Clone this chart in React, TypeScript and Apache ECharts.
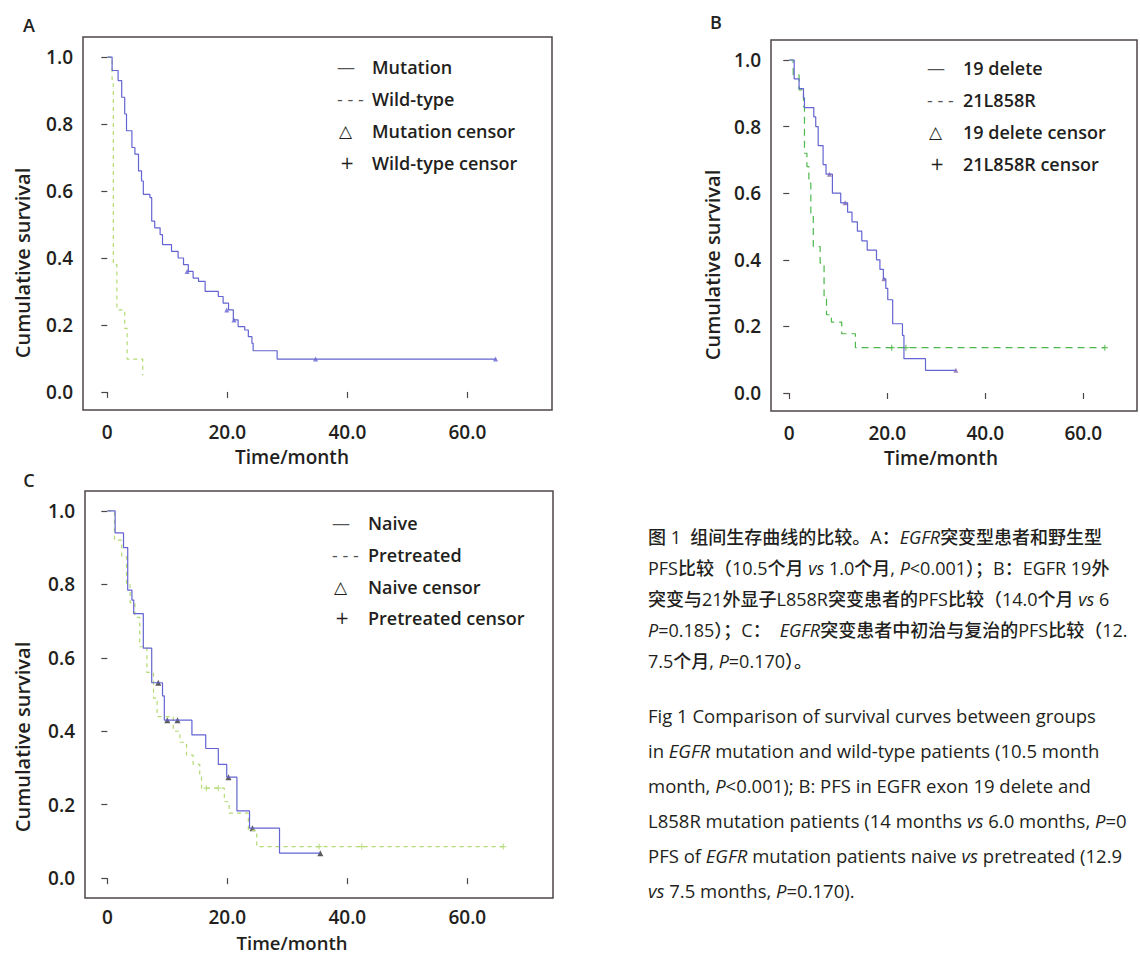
import React, { useEffect, useRef } from 'react';
import * as echarts from 'echarts';

// ---------- tick labels ----------
const X_TICKS = [0, 20, 40, 60];
const Y_TICKS = [0, 0.2, 0.4, 0.6, 0.8, 1.0];

// ---------- Panel A: EGFR mutation vs wild-type ----------
const A_MUT_T = [0, 0.8, 1.8, 2.4, 2.9, 3.2, 4.1, 4.6, 5.2, 5.7, 6.0, 7.1, 7.4, 7.9, 8.8, 9.2, 10.7, 11.8, 12.7, 13.5, 14.3, 15.2, 16.3, 18.5, 19.3, 20.2, 21.0, 21.8, 22.9, 23.5, 24.1, 24.3, 28.3, 64.7];
const A_MUT_S = [1.0, 0.96, 0.93, 0.88, 0.83, 0.78, 0.73, 0.71, 0.66, 0.63, 0.59, 0.58, 0.51, 0.49, 0.47, 0.44, 0.42, 0.40, 0.38, 0.36, 0.34, 0.33, 0.30, 0.285, 0.265, 0.245, 0.215, 0.195, 0.185, 0.165, 0.145, 0.123, 0.098, 0.098];
const A_MUT_CENSOR_T = [13.3, 19.9, 21.1, 34.7, 64.7];
const A_MUT_CENSOR_S = [0.36, 0.245, 0.215, 0.098, 0.098];
const A_WT_T = [0, 0.8, 1.0, 1.6, 2.9, 3.3, 5.9];
const A_WT_S = [1.0, 0.92, 0.38, 0.245, 0.19, 0.098, 0.05];

// ---------- Panel B: 19 delete vs 21L858R ----------
const B_DEL_T = [0, 1.0, 2.0, 2.9, 3.1, 5.0, 5.4, 5.9, 6.9, 7.5, 8.8, 10.5, 11.9, 12.8, 13.9, 14.8, 15.9, 17.8, 18.5, 19.2, 19.7, 20.1, 21.1, 23.1, 23.4, 27.8, 34.0];
const B_DEL_S = [1.0, 0.943, 0.914, 0.886, 0.857, 0.829, 0.80, 0.743, 0.686, 0.657, 0.60, 0.571, 0.543, 0.514, 0.486, 0.457, 0.429, 0.40, 0.371, 0.343, 0.314, 0.28, 0.208, 0.173, 0.103, 0.068, 0.068];
const B_DEL_CENSOR_T = [8.2, 11.4, 19.3, 34.0];
const B_DEL_CENSOR_S = [0.657, 0.571, 0.343, 0.068];
const B_L858R_T = [0, 0.8, 2.0, 2.9, 3.1, 3.6, 4.0, 4.4, 4.9, 6.3, 7.1, 7.6, 8.6, 10.7, 13.5, 64.4];
const B_L858R_S = [1.0, 0.955, 0.91, 0.86, 0.72, 0.68, 0.63, 0.54, 0.44, 0.39, 0.283, 0.235, 0.213, 0.178, 0.136, 0.136];
const B_L858R_CENSOR_T = [20.9, 23.8, 64.4];
const B_L858R_CENSOR_S = [0.136, 0.136, 0.136];

// ---------- Panel C: naive vs pretreated ----------
const C_NAIVE_T = [0, 1.3, 2.7, 3.4, 4.1, 4.4, 6.0, 7.4, 9.2, 9.5, 14.1, 16.4, 18.5, 19.9, 21.6, 23.7, 28.7, 35.5];
const C_NAIVE_S = [1.0, 0.94, 0.90, 0.784, 0.757, 0.72, 0.626, 0.532, 0.496, 0.43, 0.39, 0.353, 0.31, 0.275, 0.183, 0.136, 0.068, 0.068];
const C_NAIVE_CENSOR_T = [8.5, 10.0, 11.7, 20.2, 24.2, 35.5];
const C_NAIVE_CENSOR_S = [0.532, 0.43, 0.43, 0.275, 0.136, 0.068];
const C_PRE_T = [0, 1.2, 2.4, 3.2, 3.8, 4.6, 5.4, 6.6, 7.7, 8.3, 11.0, 12.1, 13.2, 14.3, 15.4, 15.7, 19.5, 20.3, 23.5, 24.9, 66.0];
const C_PRE_S = [1.0, 0.92, 0.875, 0.80, 0.75, 0.71, 0.63, 0.56, 0.49, 0.44, 0.40, 0.37, 0.335, 0.31, 0.276, 0.245, 0.208, 0.177, 0.13, 0.086, 0.086];
const C_PRE_CENSOR_T = [16.5, 18.5, 35.3, 42.4, 66.0];
const C_PRE_CENSOR_S = [0.245, 0.245, 0.086, 0.086, 0.086];

// ---------- texts ----------
const LEGEND_A = ['Mutation', 'Wild-type', 'Mutation censor', 'Wild-type censor'];
const LEGEND_B = ['19 delete', '21L858R', '19 delete censor', '21L858R censor'];
const LEGEND_C = ['Naive', 'Pretreated', 'Naive censor', 'Pretreated censor'];
const LEGEND_GLYPHS = ['—', '- - -', '△', '+'];
const Y_NAME = 'Cumulative survival';
const X_NAME = 'Time/month';

// caption lines, as far as they are visible in the figure (the page edge cuts them)
const CAPTION_CN = [
  '图 1  组间生存曲线的比较。A：{i|EGFR}突变型患者和野生型',
  'PFS比较（10.5个月 {i|vs} 1.0个月, {i|P}<0.001）；B：EGFR 19外',
  '突变与21外显子L858R突变患者的PFS比较（14.0个月 {i|vs} 6',
  '{i|P}=0.185）；C：{i|EGFR}突变患者中初治与复治的PFS比较（12.',
  '7.5个月, {i|P}=0.170）。',
];
const CAPTION_EN = [
  'Fig 1 Comparison of survival curves between groups',
  'in {i|EGFR} mutation and wild-type patients (10.5 month',
  'month, {i|P}<0.001); B: PFS in EGFR exon 19 delete and',
  'L858R mutation patients (14 months {i|vs} 6.0 months, {i|P}=0',
  'PFS of {i|EGFR} mutation patients naive {i|vs} pretreated (12.9',
  '{i|vs} 7.5 months, {i|P}=0.170).',
];

const FONT = "'Open Sans', 'Noto Sans CJK SC', sans-serif";
const INK = '#231f20';
const FRAME = '#4d4646';
const BLUE = '#6464d2';
const GREEN_AC = '#b3da72';
const GREEN_B = '#4db84a';

const zip = (t: number[], s: number[]) => t.map((v, i) => [v, s[i]]);
const PLUS = 'path://M4,0 L6,0 L6,4 L10,4 L10,6 L6,6 L6,10 L4,10 L4,6 L0,6 L0,4 L4,4 Z';

function axisPair(idx: number, xmin: number, xmax: number, ymin: number, ymax: number, xMargin = 12) {
  const x = {
    type: 'value', gridIndex: idx, min: xmin, max: xmax,
    axisLine: { show: false },
    splitLine: { show: false },
    axisTick: { show: true, length: 6, customValues: X_TICKS, lineStyle: { color: FRAME, width: 1.2 } },
    axisLabel: {
      customValues: X_TICKS, margin: xMargin, fontSize: 19, fontFamily: FONT, fontWeight: 600, color: INK,
      formatter: (v: number) => (v === 0 ? '0' : v.toFixed(1)),
    },
  };
  const y = {
    type: 'value', gridIndex: idx, min: ymin, max: ymax,
    axisLine: { show: false },
    splitLine: { show: false },
    axisTick: { show: true, length: 6, customValues: Y_TICKS, lineStyle: { color: FRAME, width: 1.2 } },
    axisLabel: {
      customValues: Y_TICKS, margin: 10, fontSize: 19, fontFamily: FONT, fontWeight: 600, color: INK,
      formatter: (v: number) => v.toFixed(1),
    },
  };
  return { x, y };
}

function stepLine(idx: number, name: string, t: number[], s: number[], color: string, dashed: boolean, dash?: number[]) {
  return {
    type: 'line', name, xAxisIndex: idx, yAxisIndex: idx, step: 'end', symbol: 'none',
    data: zip(t, s),
    lineStyle: { color, width: 1.2, type: dashed ? (dash || [5, 4]) : 'solid' },
    silent: true,
  };
}

function censors(idx: number, name: string, t: number[], s: number[], color: string, symbol: string, size: number) {
  return {
    type: 'scatter', name, xAxisIndex: idx, yAxisIndex: idx, symbol, symbolSize: size,
    data: zip(t, s), itemStyle: { color }, silent: true,
  };
}

function legendGraphics(gx: number, tx: number, rows: number[], labels: string[]) {
  const els: any[] = [];
  rows.forEach((y, i) => {
    const glyph = LEGEND_GLYPHS[i];
    const isSym = i >= 2;
    els.push({
      type: 'text', x: gx + (i === 2 ? 2 : i === 3 ? 3 : 0), y,
      style: {
        text: glyph, fill: i < 2 ? '#555' : INK, fontSize: isSym ? 17 : 18,
        fontFamily: isSym ? "'DejaVu Sans', sans-serif" : FONT, fontWeight: 400,
        align: 'left', verticalAlign: 'middle',
      },
    });
    els.push({
      type: 'text', x: tx, y,
      style: {
        text: labels[i], fill: INK, fontSize: 18, fontFamily: FONT, fontWeight: 600,
        align: 'left', verticalAlign: 'middle',
      },
    });
  });
  return els;
}

function textEl(text: string, x: number, y: number, size: number, rotation = 0, align = 'center') {
  return {
    type: 'text', x, y, rotation,
    style: { text, fill: INK, fontSize: size, fontFamily: FONT, fontWeight: 600, align, verticalAlign: 'middle' },
  };
}

const CAP_X = 648;

function captionEl(text: string, y: number, size: number) {
  return {
    type: 'text', x: CAP_X, y,
    style: {
      text, fill: INK, fontSize: size, fontFamily: FONT, fontWeight: 500,
      align: 'left', verticalAlign: 'middle',
      rich: {
        i: { fontSize: size, fontFamily: FONT, fontWeight: 500, fontStyle: 'italic', fill: INK },
      },
    },
  };
}

export default function App() {
  const ref = useRef<HTMLDivElement>(null);

  useEffect(() => {
    if (!ref.current) return;
    const chart = echarts.init(ref.current, null, { renderer: 'svg' });

    const a = axisPair(0, -4.05, 74.1, -0.054, 1.06);
    const b = axisPair(1, -3.73, 70.96, -0.054, 1.06);
    const c = axisPair(2, -3.72, 74.28, -0.054, 1.054, 9);

    const gridStyle = { show: true, borderColor: FRAME, borderWidth: 1.5, backgroundColor: 'transparent', containLabel: false };

    const graphics: any[] = [
      textEl('A', 29, 25, 18),
      textEl('B', 716, 22, 18),
      textEl('C', 29, 480, 18),
      textEl(Y_NAME, 22, 263, 20, Math.PI / 2),
      textEl(Y_NAME, 712, 265, 20, Math.PI / 2),
      textEl(Y_NAME, 22, 737, 20, Math.PI / 2),
      textEl(X_NAME, 292, 457, 19),
      textEl(X_NAME, 941, 458, 19),
      textEl(X_NAME, 292, 942, 18.5),
      ...legendGraphics(337, 372, [67, 99, 131, 163], LEGEND_A),
      ...legendGraphics(927, 963, [68, 100, 132, 164], LEGEND_B),
      ...legendGraphics(332, 368, [523, 555, 587, 618], LEGEND_C),
      ...CAPTION_CN.map((t, i) => captionEl(t, 537 + i * 31, 18)),
      ...CAPTION_EN.map((t, i) => captionEl(t, 715 + i * 35, 18.5)),
    ];

    const option: any = {
      animation: false,
      backgroundColor: '#ffffff',
      grid: [
        { ...gridStyle, left: 83, top: 37, width: 469, height: 373 },
        { ...gridStyle, left: 771, top: 40, width: 366, height: 371 },
        { ...gridStyle, left: 85, top: 491, width: 468, height: 407 },
      ],
      xAxis: [a.x, b.x, c.x],
      yAxis: [a.y, b.y, c.y],
      series: [
        stepLine(0, 'Wild-type', A_WT_T, A_WT_S, GREEN_AC, true, [4, 4]),
        stepLine(0, 'Mutation', A_MUT_T, A_MUT_S, BLUE, false),
        censors(0, 'Mutation censor', A_MUT_CENSOR_T, A_MUT_CENSOR_S, BLUE, 'triangle', 5),
        stepLine(1, '21L858R', B_L858R_T, B_L858R_S, GREEN_B, true, [7, 5]),
        stepLine(1, '19 delete', B_DEL_T, B_DEL_S, BLUE, false),
        censors(1, '19 delete censor', B_DEL_CENSOR_T, B_DEL_CENSOR_S, '#8a6aa8', 'triangle', 5),
        censors(1, '21L858R censor', B_L858R_CENSOR_T, B_L858R_CENSOR_S, GREEN_B, PLUS, 6),
        stepLine(2, 'Pretreated', C_PRE_T, C_PRE_S, GREEN_AC, true, [4, 4]),
        stepLine(2, 'Naive', C_NAIVE_T, C_NAIVE_S, BLUE, false),
        censors(2, 'Naive censor', C_NAIVE_CENSOR_T, C_NAIVE_CENSOR_S, '#333333', 'triangle', 6),
        censors(2, 'Pretreated censor', C_PRE_CENSOR_T, C_PRE_CENSOR_S, GREEN_AC, PLUS, 6),
      ],
      graphic: { elements: graphics },
    };

    chart.setOption(option);
    return () => chart.dispose();
  }, []);

  return <div ref={ref} style={{ position: 'absolute', left: 0, top: 0, width: 1140, height: 954 }} />;
}
